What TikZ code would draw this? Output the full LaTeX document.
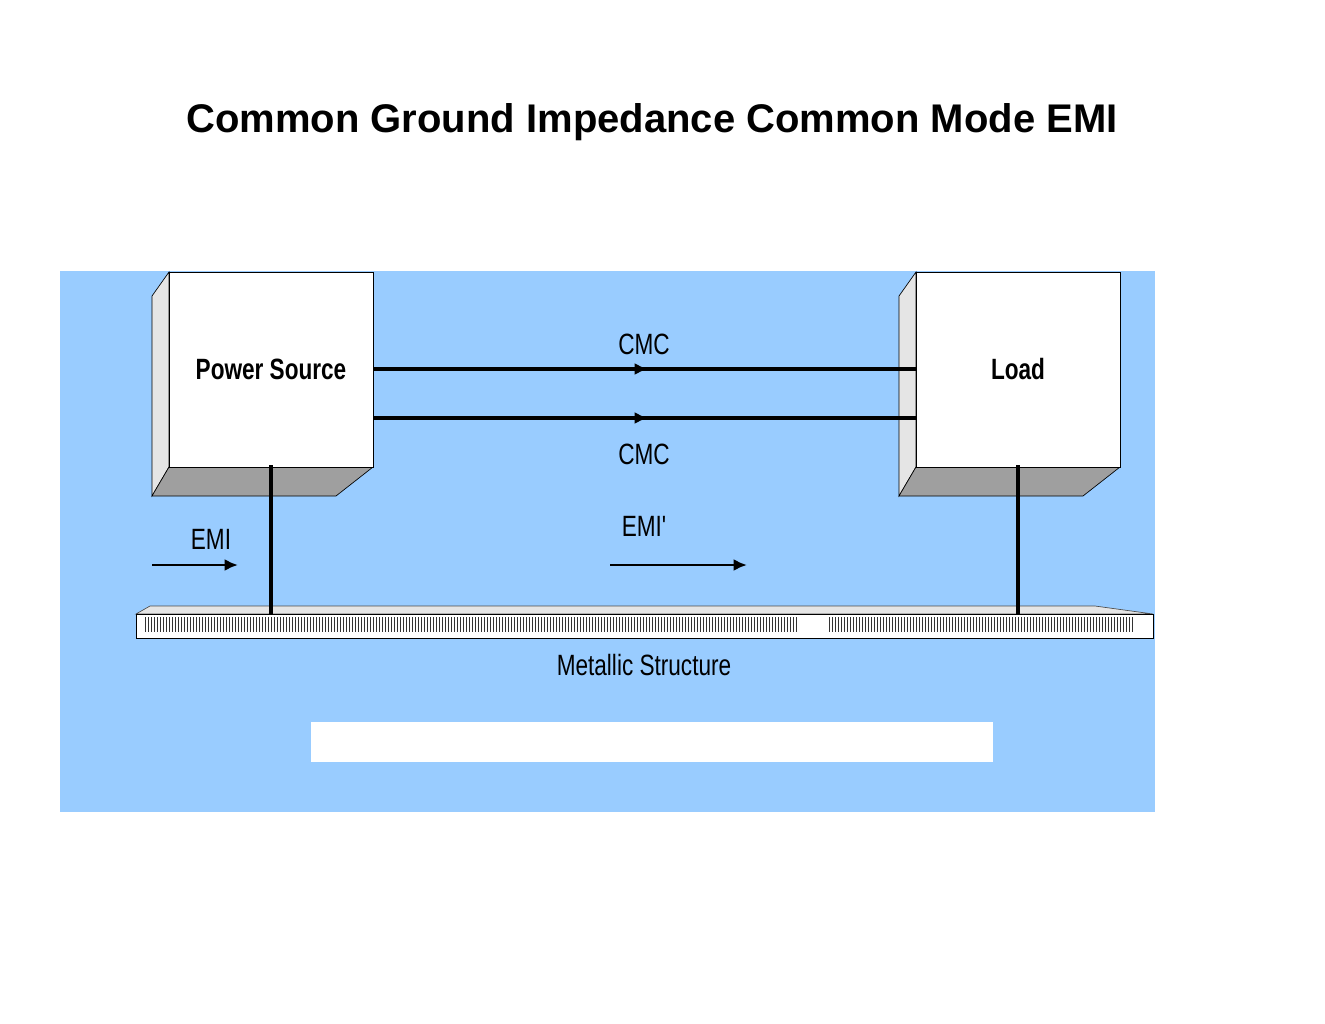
\documentclass[tikz,border=0pt]{standalone}
\usepackage{fontspec}
\setmainfont{Liberation Sans}
\usetikzlibrary{arrows.meta}
\begin{document}
\begin{tikzpicture}[x=0.75pt,y=-0.75pt,
  lbl/.style={font=\fontsize{22}{24}\selectfont,xscale=0.77,inner sep=0},
  wire/.style={line width=2.3pt},
  arr/.style={line width=2pt,-{Latex[length=10pt,width=9pt]}}]
\useasboundingbox (0,0) rectangle (1325,1024);
\node[font=\bfseries\fontsize{30}{33}\selectfont] (title) at (652,122) {Common Ground Impedance Common Mode EMI};
\fill[fill={rgb,255:red,153;green,204;blue,255}] (60,271) rectangle (1155,812);
% boxes
\foreach \x/\n/\t in {169/ps/Power Source,916/ld/Load}{
  \fill[gray!20,draw=black,line width=0.5pt] (\x-17,296) -- (\x,272) -- (\x,467) -- (\x-17,496) -- cycle;
  \fill[gray!75,draw=black,line width=0.5pt] (\x-17,496) -- (\x,467) -- (\x+204,467) -- (\x+167,496) -- cycle;
  \node[draw,fill=white,line width=0.5pt,minimum width=204*0.75pt,minimum height=195*0.75pt,anchor=north west,inner sep=0] (\n) at (\x,272) {};
  \node[lbl,font=\bfseries\fontsize{22}{24}\selectfont] at (\x+102,369) {\t};
}
% structure
\fill[gray!20,draw=black!70,line width=0.5pt] (136,614) -- (150,606) -- (1095,606) -- (1153,614) -- cycle;
\node[draw,fill=white,line width=0.8pt,minimum width=1017*0.75pt,minimum height=24*0.75pt,anchor=north west,inner sep=0] (ms) at (136,614) {};
\foreach \x in {145,148,...,798} \draw[line width=0.7pt,black!80] (\x,617) -- (\x,632);
\foreach \x in {829,832,...,1132} \draw[line width=0.7pt,black!80] (\x,617) -- (\x,632);
\node[lbl] at (644,665) {Metallic Structure};
% ground wires
\draw[wire] (271,465) -- (271,614);
\draw[wire] (1018,465) -- (1018,614);
% cmc lines
\coordinate (m1) at (648,369); \coordinate (m2) at (648,418);
\draw[wire] (373,369) -- (916,369);
\draw[wire] (373,418) -- (916,418);
\draw[arr] (620,369) -- (m1);
\draw[arr] (620,418) -- (m2);
\node[lbl] at (644,344) {CMC};
\node[lbl] at (644,454) {CMC};
% EMI
\coordinate (e1) at (152,565); \coordinate (e2) at (238,565);
\draw[arr] (e1) -- (e2);
\node[lbl] at (211,539) {EMI};
\coordinate (f1) at (610,565); \coordinate (f2) at (747,565);
\draw[arr] (f1) -- (f2);
\node[lbl] at (644,526) {EMI\textquotesingle};
\fill[white] (311,722) rectangle (993,762);
\end{tikzpicture}
\end{document}
